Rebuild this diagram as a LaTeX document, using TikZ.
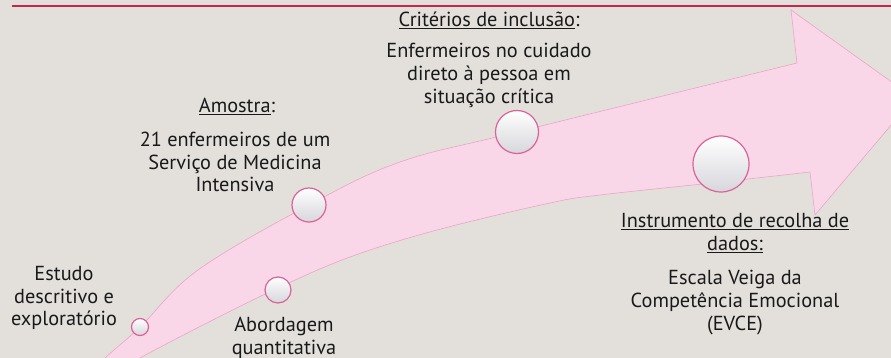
\documentclass[tikz,border=0pt]{standalone}
\usepackage{fontspec}
\setmainfont{PT Sans}
\definecolor{bg}{RGB}{227,224,220}
\definecolor{arrowpink}{RGB}{250,215,232}
\definecolor{arrowedge}{RGB}{234,166,196}
\definecolor{ringpink}{RGB}{218,98,152}
\definecolor{redline}{RGB}{196,40,72}
\definecolor{txt}{RGB}{25,25,25}
\definecolor{dotlow}{RGB}{214,214,220}
\begin{document}
\begin{tikzpicture}[x=1pt,y=-1pt,
  dot/.style={circle, draw=ringpink, line width=1.2pt, top color=white, bottom color=dotlow, inner sep=0pt},
  lbl/.style={align=center, text=txt, font=\fontsize{20.3}{22.8}\selectfont, inner sep=0pt}]
\useasboundingbox (0,0) rectangle (891,358);
\clip (0,0) rectangle (891,358);
\fill[bg] (0,0) rectangle (891,358);
\draw[redline, line width=2.4pt] (12,6) -- (895,6);
% curved arrow
\filldraw[fill=arrowpink, draw=arrowedge, line width=0.6pt]
  plot[smooth, tension=0.6] coordinates {(95,370) (105,358) (140,327) (198,270) (309,205) (400,162) (517,132) (797,63)}
  -- (791,10) -- (914,98) -- (815,215) -- (810,172)
  -- plot[smooth, tension=0.6] coordinates {(810,172) (721,182) (600,195) (550,203) (437,230) (350,257) (278,288) (203,325) (140,358) (122,370)}
  -- cycle;
% dots
\node[dot, minimum size=17pt] (d1) at (140,327) {};
\node[dot, minimum size=26pt] (d2) at (278,290) {};
\node[dot, minimum size=34pt] (d3) at (309,205) {};
\node[dot, minimum size=43pt] (d4) at (517,132) {};
\node[dot, minimum size=56pt] (d5) at (721,164) {};
% labels
\node[lbl] (estudo) at (64,298) {Estudo\\descritivo e\\exploratório};
\node[lbl] (abord) at (284,337.5) {Abordagem\\quantitativa};
\node[lbl] (amhead) at (237,106) {\underline{Amostra}:};
\node[lbl] (ambody) at (235,162) {21 enfermeiros de um\\Serviço de Medicina\\Intensiva};
\node[lbl] (crhead) at (489,20) {\underline{Critérios de inclusão}:};
\node[lbl] (crbody) at (489,75.5) {Enfermeiros no cuidado\\direto à pessoa em\\situação crítica};
\node[lbl] (inhead) at (735,233) {\underline{Instrumento de recolha de}\\\underline{dados:}};
\node[lbl] (inbody) at (735,302.5) {Escala Veiga da\\Competência Emocional\\(EVCE)};
\end{tikzpicture}
\end{document}
